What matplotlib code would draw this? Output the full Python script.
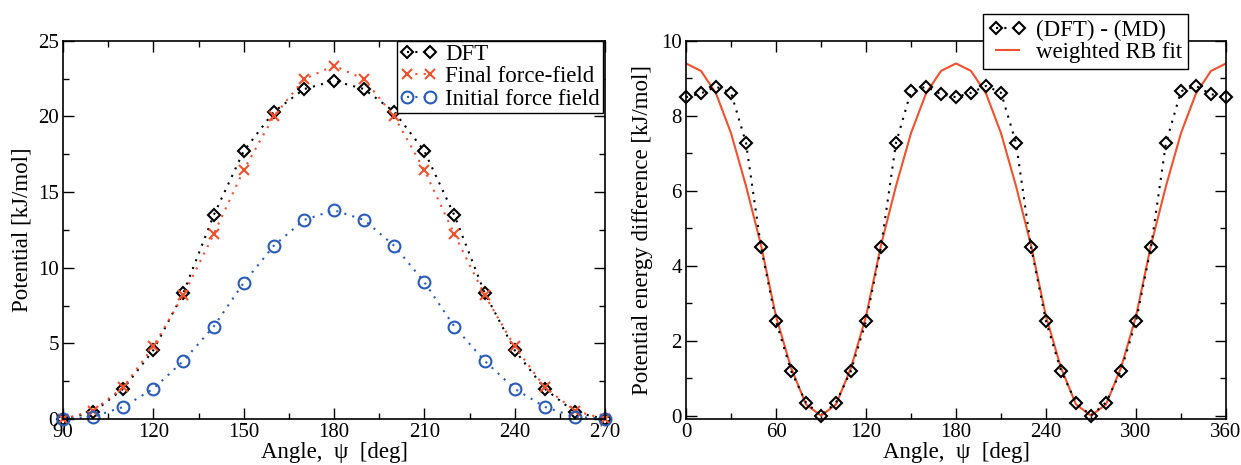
import numpy as np
import matplotlib
matplotlib.use("Agg")
import matplotlib.pyplot as plt
from matplotlib.ticker import MultipleLocator

plt.rcParams['font.family'] = ['Liberation Serif', 'DejaVu Serif']
plt.rcParams['font.size'] = 15

# Left panel: torsion scan, 90..270 deg
psi_scan = [90, 100, 110, 120, 130, 140, 150, 160, 170, 180,
            190, 200, 210, 220, 230, 240, 250, 260, 270]
dft = [0.0, 0.45, 2.0, 4.55, 8.35, 13.45, 17.7, 20.3, 21.8, 22.35,
       21.8, 20.3, 17.7, 13.45, 8.35, 4.55, 2.0, 0.45, 0.0]
final_ff = [0.0, 0.55, 2.1, 4.8, 8.2, 12.2, 16.45, 20.0, 22.45, 23.35,
            22.45, 20.0, 16.45, 12.2, 8.2, 4.8, 2.1, 0.55, 0.0]
initial_ff = [0.0, 0.15, 0.8, 2.0, 3.85, 6.1, 9.0, 11.45, 13.15, 13.8,
              13.15, 11.45, 9.05, 6.1, 3.85, 2.0, 0.8, 0.15, 0.0]

# Right panel: DFT - MD difference over full turn and the RB fit
psi_full = list(range(0, 361, 10))
diff = [8.5, 8.6, 8.78, 8.62, 7.28, 4.5, 2.52, 1.2, 0.35, 0.0,
        0.35, 1.2, 2.52, 4.5, 7.28, 8.66, 8.78, 8.58, 8.5,
        8.62, 8.8, 8.62, 7.28, 4.5, 2.52, 1.2, 0.35, 0.0,
        0.35, 1.2, 2.52, 4.5, 7.28, 8.66, 8.8, 8.58, 8.5]
rb_fit = [9.4, 9.2, 8.6, 7.54, 6.13, 4.55, 2.65, 1.28, 0.3, 0.0,
          0.3, 1.28, 2.65, 4.55, 6.13, 7.54, 8.6, 9.2, 9.4,
          9.2, 8.6, 7.54, 6.13, 4.55, 2.65, 1.28, 0.3, 0.0,
          0.3, 1.28, 2.65, 4.55, 6.13, 7.54, 8.6, 9.2, 9.4]

red = '#f0512e'
blue = '#2a5cb8'
dots = (0, (1, 3))

fig = plt.figure(figsize=(12.41, 4.65), dpi=100)
ax1 = fig.add_axes([0.0508, 0.0989, 0.4367, 0.8136])
ax2 = fig.add_axes([0.5528, 0.0996, 0.4351, 0.8123])


def style_axes(ax):
    for s in ax.spines.values():
        s.set_linewidth(1.2)
    ax.tick_params(which='both', direction='in', top=True, right=True,
                   width=1.0, labelsize=15, pad=3)
    ax.tick_params(which='major', length=8)
    ax.tick_params(which='minor', length=4)


ax1.plot(psi_scan, dft, color='black', ls=dots, lw=1.5, marker='D',
         ms=6.2, mfc='none', mec='black', mew=1.5, label='DFT', clip_on=False)
ax1.plot(psi_scan, final_ff, color=red, ls=dots, lw=1.5, marker='x',
         ms=7, mec=red, mew=1.5, label='Final force-field', clip_on=False)
ax1.plot(psi_scan, initial_ff, color=blue, ls=dots, lw=1.5, marker='o',
         ms=8.5, mfc='none', mec=blue, mew=1.5, label='Initial force field',
         clip_on=False)
ax1.set_xlim(90, 270)
ax1.set_ylim(0, 25)
ax1.xaxis.set_major_locator(MultipleLocator(30))
ax1.xaxis.set_minor_locator(MultipleLocator(15))
ax1.yaxis.set_major_locator(MultipleLocator(5))
ax1.yaxis.set_minor_locator(MultipleLocator(2.5))
ax1.set_xlabel('Angle,  ψ  [deg]', fontsize=16.5, labelpad=0)
ax1.set_ylabel('Potential [kJ/mol]', fontsize=16.5, labelpad=4)
style_axes(ax1)
leg1 = ax1.legend(loc='upper right', bbox_to_anchor=(603 / 1241, 1 - 40.7 / 465),
                  bbox_transform=fig.transFigure, borderaxespad=0,
                  numpoints=2, handlelength=1.6, handletextpad=0.35,
                  labelspacing=0.05, borderpad=0.15, fontsize=16.5, fancybox=False,
                  framealpha=1, edgecolor='black')
leg1.get_frame().set_linewidth(1.0)

ax2.plot(psi_full, diff, color='black', ls=dots, lw=1.5, marker='D',
         ms=6.2, mfc='none', mec='black', mew=1.5, label='(DFT) - (MD)',
         clip_on=False, zorder=3)
ax2.plot(psi_full, rb_fit, color=red, lw=1.5, label='weighted RB fit', zorder=2)
ax2.set_xlim(0, 360)
ax2.set_ylim(-0.08, 10)
ax2.xaxis.set_major_locator(MultipleLocator(60))
ax2.xaxis.set_minor_locator(MultipleLocator(30))
ax2.yaxis.set_major_locator(MultipleLocator(2))
ax2.yaxis.set_minor_locator(MultipleLocator(1))
ax2.set_xlabel('Angle,  ψ  [deg]', fontsize=16.5, labelpad=0)
ax2.set_ylabel('Potential energy difference [kJ/mol]', fontsize=16.5, labelpad=6)
style_axes(ax2)
leg2 = ax2.legend(loc='upper left', bbox_to_anchor=(983 / 1241, 1 - 14 / 465),
                  bbox_transform=fig.transFigure, borderaxespad=0,
                  numpoints=2, handlelength=1.6, handletextpad=0.45,
                  labelspacing=0.05, borderpad=0.25, fontsize=16.5, fancybox=False,
                  framealpha=1, edgecolor='black')
leg2.get_frame().set_linewidth(1.0)

fig.savefig('out.png', dpi=100)
